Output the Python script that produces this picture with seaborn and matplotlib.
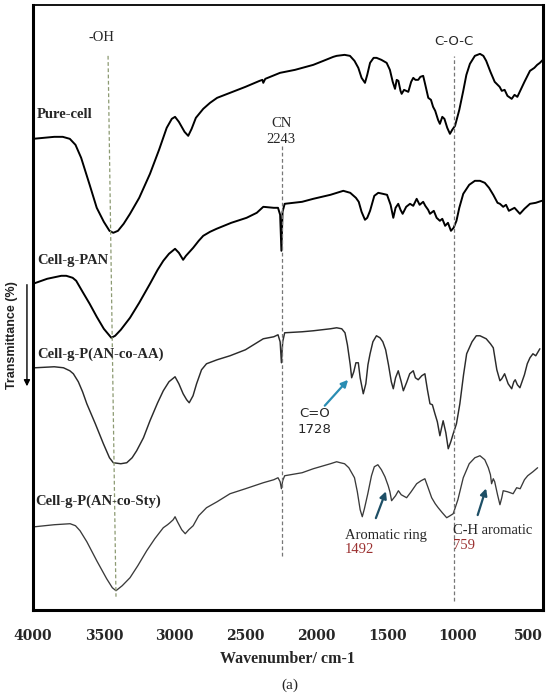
import matplotlib
matplotlib.use("Agg")
import matplotlib.pyplot as plt
from matplotlib.patches import FancyArrowPatch
import seaborn as sns
import pandas as pd

# FTIR spectra, transmittance in arbitrary (offset) units
pure_wn = [4000, 3850, 3790, 3740, 3700, 3660, 3600, 3550, 3500, 3460, 3433, 3400, 3360,
           3315, 3250, 3174, 3110, 3056, 3020, 2997, 2970, 2930, 2904, 2880, 2850, 2798,
           2750, 2700, 2609, 2500, 2400, 2380, 2374, 2360, 2256, 2150, 2021, 1950, 1880,
           1856, 1800, 1762, 1730, 1703, 1680, 1656, 1640, 1620, 1595, 1574, 1540, 1503,
           1480, 1460, 1444, 1432, 1420, 1405, 1397, 1380, 1350, 1330, 1315, 1300, 1280,
           1265, 1245, 1230, 1209, 1190, 1175, 1160, 1140, 1127, 1110, 1095, 1075, 1056,
           1040, 1020, 990, 962, 940, 915, 880, 844, 820, 800, 770, 740, 726, 705, 690,
           670, 650, 620, 600, 580, 560, 530, 491, 460, 440, 421, 400]
pure_t = [471, 473, 473, 471, 465, 452, 425, 402, 388, 379, 377, 379, 386,
          396, 412, 436, 460, 482, 491, 493, 488, 478, 474, 481, 492, 501,
          507, 512, 517, 523, 529, 530, 527, 531, 537, 540, 545, 549, 553,
          554, 555, 554, 549, 542, 532, 527, 535, 547, 552, 552, 550, 547,
          540, 528, 521, 530, 529, 519, 516, 520, 518, 528, 532, 530, 530,
          533, 534, 525, 512, 510, 503, 499, 490, 486, 493, 491, 482, 476,
          480, 484, 500, 519, 535, 546, 554, 556, 554, 549, 538, 528, 526, 523, 519,
          520, 514, 511, 515, 513, 519, 528, 539, 542, 545, 547, 550]

pan_wn = [4000, 3900, 3800, 3765, 3720, 3695, 3650, 3600, 3550, 3500, 3447, 3420, 3380,
          3315, 3250, 3174, 3120, 3080, 3040, 2997, 2970, 2940, 2920, 2869, 2830, 2798,
          2750, 2704, 2600, 2492, 2420, 2374, 2300, 2270, 2255, 2246, 2238, 2223, 2100,
          2021, 1900, 1809, 1760, 1720, 1700, 1680, 1656, 1640, 1620, 1590, 1562, 1530,
          1500, 1475, 1456, 1440, 1421, 1405, 1390, 1365, 1338, 1315, 1291, 1270, 1245,
          1230, 1210, 1197, 1170, 1150, 1127, 1110, 1090, 1070, 1049, 1030, 1010, 990,
          962, 920, 880, 844, 810, 780, 750, 720, 703, 680, 660, 640, 600, 562, 530,
          491, 450, 408]
pan_t = [326, 331, 334, 334, 332, 329, 318, 306, 293, 281, 272, 274, 280,
         292, 307, 326, 340, 349, 356, 361, 357, 350, 354, 362, 369, 374,
         378, 381, 387, 392, 397, 403, 402, 402, 395, 359, 398, 406, 408,
         411, 415, 419, 417, 412, 408, 398, 390, 392, 399, 414, 417, 416,
         415, 405, 392, 402, 406, 400, 396, 403, 406, 404, 411, 405, 408,
         404, 400, 396, 399, 392, 389, 391, 384, 387, 379, 382, 389, 402,
         416, 425, 429, 429, 427, 422, 415, 407, 406, 403, 405, 399, 402, 396, 401,
         406, 407, 409]

aa_wn = [3985, 3850, 3785, 3740, 3715, 3680, 3650, 3620, 3560, 3503, 3460, 3433, 3380,
         3338, 3300, 3268, 3220, 3174, 3120, 3080, 3040, 2997, 2970, 2940, 2915, 2897,
         2870, 2845, 2810, 2775, 2700, 2609, 2500, 2374, 2300, 2270, 2255, 2246, 2237,
         2223, 2100, 2021, 1900, 1856, 1820, 1797, 1780, 1760, 1750, 1735, 1720, 1703,
         1690, 1668, 1650, 1635, 1620, 1600, 1575, 1550, 1530, 1510, 1490, 1470, 1456,
         1440, 1421, 1400, 1385, 1360, 1340, 1315, 1300, 1280, 1255, 1233, 1215, 1197,
         1180, 1162, 1145, 1127, 1115, 1104, 1085, 1068, 1050, 1033, 1010, 986, 960,
         938, 900, 870, 844, 800, 770, 750, 725, 703, 690, 670, 645, 620, 605, 595,
         580, 562, 530, 510, 491, 470, 450, 421]
aa_t = [242, 243, 242, 239, 236, 228, 218, 206, 186, 166, 152, 147, 146,
        147, 152, 159, 172, 189, 207, 219, 228, 233, 226, 216, 210, 207,
        214, 226, 240, 246, 250, 254, 260, 271, 273, 275, 268, 247, 268,
        277, 278, 279, 281, 282, 281, 277, 265, 245, 232, 238, 247, 247,
        232, 216, 226, 245, 256, 268, 274, 272, 268, 260, 245, 228, 221,
        232, 239, 228, 219, 228, 236, 239, 232, 230, 234, 236, 220, 206,
        205, 196, 188, 174, 182, 189, 177, 161, 168, 176, 186, 206, 235,
        256, 268, 274, 274, 271, 266, 262, 240, 229, 231, 236, 226, 221, 228, 230,
        225, 222, 235, 246, 252, 256, 254, 261]

sty_wn = [3985, 3850, 3738, 3700, 3668, 3620, 3550, 3480, 3440, 3414, 3370, 3315, 3260,
          3197, 3140, 3080, 3050, 3033, 3010, 2997, 2980, 2950, 2925, 2900, 2869, 2830,
          2775, 2700, 2609, 2500, 2374, 2300, 2270, 2255, 2246, 2237, 2223, 2100, 2021,
          1900, 1856, 1830, 1800, 1770, 1750, 1730, 1710, 1690, 1675, 1660, 1636, 1610,
          1590, 1565, 1540, 1515, 1492, 1480, 1468, 1440, 1420, 1400, 1362, 1330, 1291,
          1260, 1233, 1210, 1185, 1160, 1139, 1110, 1079, 1055, 1033, 1000, 962, 920,
          880, 844, 810, 785, 770, 762, 750, 740, 720, 703, 690, 680, 650, 610, 585,
          560, 530, 507, 470, 437]
sty_t = [83, 85, 86, 84, 79, 68, 49, 31, 22, 19, 24, 32, 44,
         59, 71, 82, 85, 87, 90, 93, 88, 80, 76, 80, 84, 94,
         102, 108, 116, 121, 127, 130, 132, 128, 121, 129, 134, 137, 141,
         146, 148, 147, 146, 142, 137, 132, 118, 100, 93, 101, 116, 134,
         143, 145, 140, 133, 124, 118, 109, 114, 119, 115, 112, 118, 126,
         129, 131, 122, 112, 106, 102, 97, 92, 94, 96, 110, 132, 146,
         152, 154, 150, 142, 135, 126, 131, 128, 115, 105, 112, 119, 118, 116, 122,
         121, 130, 134, 138, 142]

sample_names = ["Pure-cell", "Cell-g-PAN", "Cell-g-P(AN-co-AA)", "Cell-g-P(AN-co-Sty)"]
xticks = [4000, 3500, 3000, 2500, 2000, 1500, 1000, 500]
band_wn = {"CN": 2243, "C-O-C": 1030}

sns.set_style("white")
plt.rcParams["font.family"] = ["Liberation Serif", "DejaVu Serif"]

fig = plt.figure(figsize=(5.5, 6.96), dpi=100)
ax = fig.add_axes([0.06, 0.124, 0.927, 0.869])

spectra = [(pure_wn, pure_t, "black", 1.4), (pan_wn, pan_t, "black", 1.4),
           (aa_wn, aa_t, "#2b2b2b", 1.05), (sty_wn, sty_t, "#3a3a3a", 0.95)]
for (wn, t, col, lw), name in zip(spectra, sample_names):
    df = pd.DataFrame({"wn": wn, "T": t})
    sns.lineplot(data=df, x="wn", y="T", ax=ax, color=col, linewidth=lw,
                 estimator=None, sort=True)

ax.set_xlim(4000, 400)
ax.set_ylim(0, 605)

# band marker lines
ax.plot([3470, 3414], [554, 13], ls=(0, (3, 2)), color="#8c9a72", lw=0.9)
ax.plot([band_wn["CN"], band_wn["CN"]], [54, 464], ls=(0, (3, 2)), color="#777777", lw=0.9)
ax.plot([band_wn["C-O-C"], band_wn["C-O-C"]], [9, 554], ls=(0, (3, 2)), color="#777777", lw=0.9)

ax.text(3520, 572, "-OH", ha="center", va="center", fontsize=10.5)
ax.text(1030, 568, "C-O-C", ha="center", va="center", fontsize=9.5, family="DejaVu Sans")
ax.text(2246, 486, "CN", ha="center", va="center", fontsize=10.5)
ax.text(2246, 470, "2243", ha="center", va="center", fontsize=10.5)

label_pos = [(3972, 495), (3972, 349), (3972, 256), (3986, 108)]
for (x, y), name in zip(label_pos, sample_names):
    ax.text(x, y, name, ha="left", va="center", fontsize=10.5, fontweight="bold")

# annotations
ax.annotate("", xy=(1762, 232), xytext=(1953, 202),
            arrowprops=dict(arrowstyle="-|>", color="#2a8db3", lw=1.6, mutation_scale=10))
ax.text(2010, 196, "C=O", ha="center", va="center", fontsize=9.5, family="DejaVu Sans")
ax.text(2010, 180, "1728", ha="center", va="center", fontsize=9.5, family="DejaVu Sans")

ax.annotate("", xy=(1501, 121), xytext=(1586, 89),
            arrowprops=dict(arrowstyle="-|>", color="#1e4f66", lw=1.6, mutation_scale=10))
ax.text(1797, 74, "Aromatic ring", ha="left", va="center", fontsize=10.5)
ax.text(1797, 60, "1492", ha="left", va="center", fontsize=10.5, color="#9b3030")

ax.annotate("", xy=(795, 124), xytext=(866, 92),
            arrowprops=dict(arrowstyle="-|>", color="#1e4f66", lw=1.6, mutation_scale=10))
ax.text(1035, 79, "C-H aromatic", ha="left", va="center", fontsize=10.5)
ax.text(1035, 64, "759", ha="left", va="center", fontsize=10.5, color="#9b3030")

ax.set_xticks(xticks)
ax.set_xticklabels([str(v) for v in xticks], fontweight="bold", fontsize=10,
                   family="DejaVu Serif")
ax.set_yticks([])
ax.tick_params(axis="x", direction="out", length=7, width=1.8, pad=7)
for side, w in [("left", 2.2), ("bottom", 2.2), ("right", 2.2), ("top", 1.3)]:
    ax.spines[side].set_visible(True)
    ax.spines[side].set_linewidth(w)
    ax.spines[side].set_color("black")

ax.set_xlabel("Wavenumber/ cm-1", fontsize=11.5, fontweight="bold", labelpad=6)
ax.set_ylabel("")
fig.text(0.022, 0.519, "Transmittance (%)", rotation=90, ha="center", va="center",
         fontsize=9, fontweight="bold", family="Liberation Sans", color="#222222")
fig.add_artist(FancyArrowPatch((0.049, 0.595), (0.049, 0.441), transform=fig.transFigure,
                               arrowstyle="-|>", mutation_scale=9, color="black", lw=1.0))
fig.text(0.527, 0.015, "(a)", ha="center", va="center", fontsize=11)

fig.savefig("out.png", dpi=100)
